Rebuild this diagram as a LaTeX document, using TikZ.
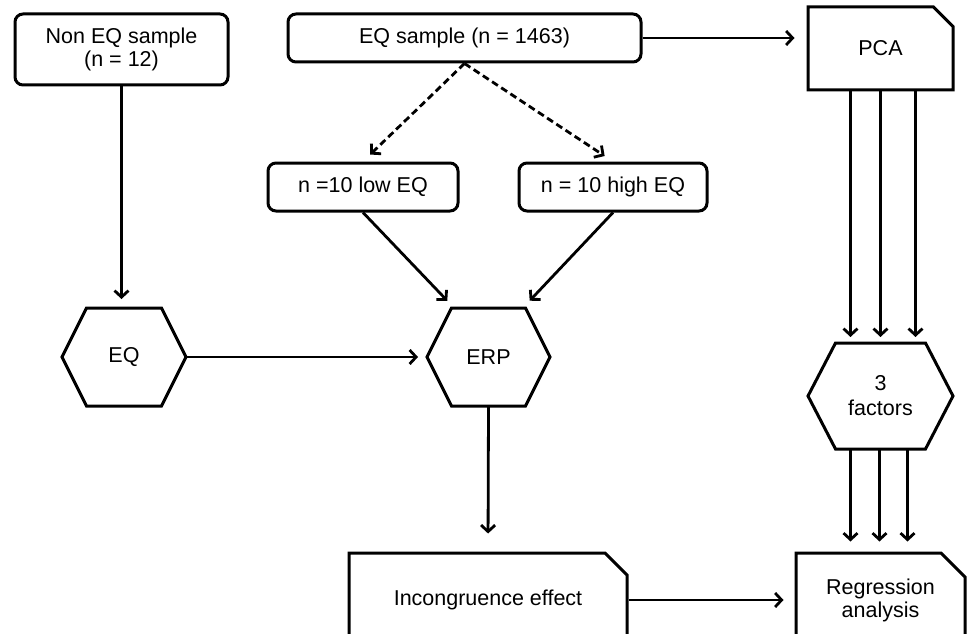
\documentclass[tikz,border=0pt]{standalone}
\usepackage{fontspec}
\setmainfont{Liberation Sans}
\usetikzlibrary{shapes.misc, arrows.meta}
\tikzstyle{rbox}=[draw,rectangle,rounded corners=8pt,line width=3pt,inner sep=0pt,align=center]
\tikzstyle{hexa}=[rectangle,inner sep=0pt,outer sep=0pt,align=center]
\tikzstyle{doc}=[draw,chamfered rectangle,chamfered rectangle corners=north east,chamfered rectangle sep=12pt,line width=3pt,inner sep=0pt,align=center]
\tikzstyle{arr}=[line width=2.8pt,-{Straight Barb[length=6.5pt,width=14pt]}]
\tikzstyle{dsh}=[arr,dash pattern=on 7pt off 4pt]

\begin{document}
\begin{tikzpicture}[x=1pt,y=-1pt,font=\fontsize{21.5}{23}\selectfont]
\clip (0,0) rectangle (967,634);
\node[rbox,minimum width=213pt,minimum height=71pt] (noneq) at (121.5,49.5) {Non EQ sample\\(n = 12)};
\node[rbox,minimum width=353pt,minimum height=48pt] (eqs) at (464.5,38) {EQ sample (n = 1463)};
\node[rbox,minimum width=190pt,minimum height=48pt] (low) at (363,187) {n =10 low EQ};
\node[rbox,minimum width=188pt,minimum height=48pt] (high) at (613,187) {n = 10 high EQ};
\node[hexa,minimum width=124pt,minimum height=98pt] (eq) at (124,357) {EQ};
\node[hexa,minimum width=123pt,minimum height=98pt] (erp) at (488.5,357) {ERP};
\node[doc,minimum width=145pt,minimum height=83pt] (pca) at (880.5,48.5) {PCA};
\node[hexa,minimum width=145pt,minimum height=106pt] (fac) at (880.5,396) {3\\[2pt]factors};
\node[doc,minimum width=278pt,minimum height=94pt] (inc) at (488,600) {Incongruence effect};
\node[doc,minimum width=169pt,minimum height=94pt] (reg) at (880.5,600) {Regression\\analysis};
\foreach \n/\c in {eq/24.5, erp/24.5, fac/27.5}
    \draw[line width=3pt] (\n.west) -- ([xshift=\c pt]\n.north west) -- ([xshift=-\c pt]\n.north east)
        -- (\n.east) -- ([xshift=-\c pt]\n.south east) -- ([xshift=\c pt]\n.south west) -- cycle;

\draw[arr,shorten >=9pt] (noneq.south) -- (noneq.south |- eq.north);
\draw[arr,shorten >=12pt] (eqs.east) -- (eqs.east -| pca.west);
\draw[dsh,shorten >=10pt] (eqs.south) -- (low.north);
\draw[dsh,shorten >=10pt] (eqs.south) -- (high.north);
\draw[arr,shorten >=10pt] (low.south) -- (erp.125);
\draw[arr,shorten >=10pt] (high.south) -- (erp.55);
\draw[arr,shorten >=9pt] (eq.east) -- (erp.west);
\draw[arr,shorten >=18pt] (erp.south) -- (inc.north);
\draw[arr,shorten >=11pt] (inc.east) -- (reg.west);
\foreach \dx in {-30,0,35}
    \draw[arr,shorten >=6pt] ([xshift=\dx pt]pca.south) -- ([xshift=\dx pt]pca.south |- fac.north);
\foreach \dx in {-30,-1,27}
    \draw[arr,shorten >=10pt] ([xshift=\dx pt]fac.south) -- ([xshift=\dx pt]fac.south |- reg.north);
\end{tikzpicture}
\end{document}
